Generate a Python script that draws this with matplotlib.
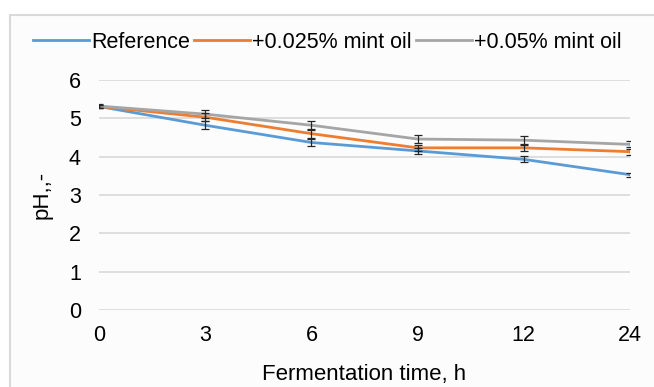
import numpy as np
import matplotlib.pyplot as plt
from matplotlib.patches import Rectangle

plt.rcParams['font.family'] = ['Liberation Sans', 'DejaVu Sans']

# data
times = ['0', '3', '6', '9', '12', '24']
ph_ref = [5.31, 4.82, 4.37, 4.15, 3.93, 3.53]
ph_025 = [5.31, 5.03, 4.60, 4.23, 4.23, 4.13]
ph_05 = [5.32, 5.11, 4.82, 4.46, 4.43, 4.32]
err_ref = [0.05, 0.10, 0.10, 0.08, 0.08, 0.05]
err_025 = [0.05, 0.10, 0.10, 0.08, 0.08, 0.08]
err_05 = [0.05, 0.10, 0.10, 0.10, 0.10, 0.08]

fig = plt.figure(figsize=(6.54, 3.87), dpi=100)
fig.patch.set_facecolor('white')
fig.patches.append(Rectangle((10 / 654, -0.1), 1.2, 1 - 15 / 387 + 0.1,
                             transform=fig.transFigure, facecolor='#fcfcfc',
                             edgecolor='#d9d9d9', lw=1.5, zorder=-1))
ax = fig.add_axes([99 / 654, 1 - 310 / 387, 531 / 654, 230 / 387])
ax.set_facecolor('none')

x = np.arange(len(times))
series = [('Reference', ph_ref, err_ref, '#5b9bd5'),
          ('+0.025% mint oil', ph_025, err_025, '#ed7d31'),
          ('+0.05% mint oil', ph_05, err_05, '#a5a5a5')]
for label, vals, err, col in series:
    ax.plot(x, vals, color=col, lw=2, label=label, zorder=3)
    ax.errorbar(x, vals, yerr=err, fmt='none', ecolor='#262626',
                elinewidth=0.9, capsize=3, capthick=0.9, zorder=4)

ax.set_xlim(0, 5)
ax.set_ylim(0, 6)
ax.set_yticks(range(0, 7))
ax.set_xticks(x)
ax.set_xticklabels(times)
ax.tick_params(length=0, labelsize=15.5, colors='#000000')
ax.tick_params(axis='y', pad=13)
ax.tick_params(axis='x', pad=11)
ax.yaxis.grid(True, color='#d9d9d9', lw=1.2)
for s in ax.spines.values():
    s.set_visible(False)
ax.set_xlabel('Fermentation time, h', fontsize=16, labelpad=13)
ax.set_ylabel('pH,,-', fontsize=16, labelpad=12)

ax.legend(loc='center', bbox_to_anchor=(0.43, 1.165), ncol=3, frameon=False,
          fontsize=15.5, handlelength=2.6, handletextpad=0.1, columnspacing=0.2)

fig.savefig('out.png', dpi=100, facecolor=fig.get_facecolor())
